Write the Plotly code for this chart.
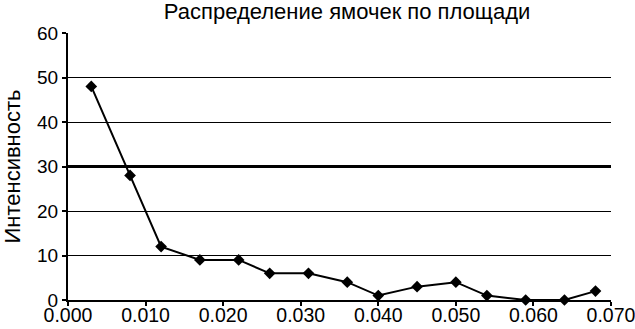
import plotly.graph_objects as go

area = [0.003, 0.008, 0.012, 0.017, 0.022, 0.026, 0.031, 0.036, 0.040, 0.045, 0.050, 0.054, 0.059, 0.064, 0.068]
intensity = [48, 28, 12, 9, 9, 6, 6, 4, 1, 3, 4, 1, 0, 0, 2]
x_ticks = [0.0, 0.01, 0.02, 0.03, 0.04, 0.05, 0.06, 0.07]
x_tick_labels = ["0.000", "0.010", "0.020", "0.030", "0.040", "0.050", "0.060", "0.070"]
y_ticks = [0, 10, 20, 30, 40, 50, 60]
y_major = [30, 60]

font = "Liberation Sans, Arial, sans-serif"

fig = go.Figure()
fig.add_trace(go.Scatter(
    x=area, y=intensity, mode="lines+markers",
    line=dict(color="black", width=2),
    marker=dict(symbol="diamond", size=9, color="black"),
    showlegend=False, cliponaxis=False,
))
# invisible trace to activate the overlay axis for heavier gridlines
fig.add_trace(go.Scatter(x=[area[0]], y=[intensity[0]], yaxis="y2", mode="markers",
                         marker=dict(opacity=0), showlegend=False, hoverinfo="skip"))

fig.update_layout(
    width=635, height=329,
    margin=dict(l=68, r=24, t=33, b=29, autoexpand=False),
    paper_bgcolor="white", plot_bgcolor="white",
    font=dict(family=font, color="black", size=20),
    title=dict(text="Распределение ямочек по площади", x=0.514, xref="paper", xanchor="center",
               y=0.99, yanchor="top", font=dict(size=22, family=font)),
    xaxis=dict(range=[0, 0.07], tickvals=x_ticks, ticktext=x_tick_labels, automargin=False,
               showgrid=False, zeroline=False, showline=True, linecolor="black", linewidth=2,
               ticks="outside", ticklen=4, tickwidth=2, tickcolor="black",
               ticklabelstandoff=-7, ticklabeloverflow="allow",
               tickfont=dict(size=19.5, family=font)),
    yaxis=dict(range=[0, 60], tickvals=y_ticks, showgrid=True, gridcolor="black", gridwidth=1,
               zeroline=False, showline=True, linecolor="black", linewidth=2, automargin=False,
               ticks="outside", ticklen=4, tickwidth=2, tickcolor="black",
               tickfont=dict(size=19, family=font),
               title=dict(text="Интенсивность", font=dict(size=22, family=font), standoff=10)),
    yaxis2=dict(range=[0, 60], overlaying="y", tickvals=y_major, showgrid=True,
                gridcolor="black", gridwidth=2.5, showticklabels=False, zeroline=False,
                showline=False, ticks="", automargin=False),
)

fig.write_html("out.html", config={"displayModeBar": False},
               post_script="document.body.style.margin='0';document.body.style.overflow='hidden';")
